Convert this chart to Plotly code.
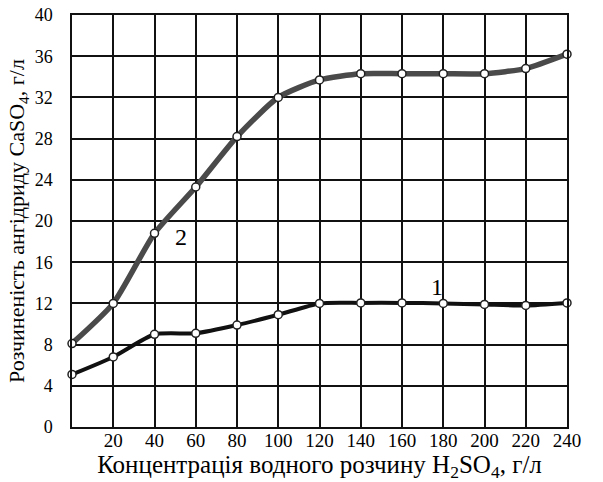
import plotly.graph_objects as go

conc = [0, 20, 40, 60, 80, 100, 120, 140, 160, 180, 200, 220, 240]
curve1 = [5.1, 6.8, 9.0, 9.1, 9.9, 10.9, 12.0, 12.05, 12.05, 12.0, 11.9, 11.8, 12.05]
curve2 = [8.1, 12.0, 18.8, 23.3, 28.2, 32.0, 33.7, 34.3, 34.3, 34.3, 34.3, 34.8, 36.2]
x_ticks = [20, 40, 60, 80, 100, 120, 140, 160, 180, 200, 220, 240]
y_ticks = [0, 4, 8, 12, 16, 20, 24, 28, 32, 36, 40]
curve_labels = ["1", "2"]
label_pos = [(177, 13.6), (53, 18.4)]

FONT = "Liberation Serif, Times New Roman, serif"

fig = go.Figure()
fig.add_trace(go.Scatter(
    x=conc, y=curve2, mode="lines+markers",
    line=dict(color="#4a4a4a", width=5.5, shape="spline", smoothing=0.6),
    marker=dict(symbol="circle", size=8, color="white", line=dict(color="#222222", width=1.5)),
    cliponaxis=False, showlegend=False))
fig.add_trace(go.Scatter(
    x=conc, y=curve1, mode="lines+markers",
    line=dict(color="#111111", width=4, shape="spline", smoothing=0.6),
    marker=dict(symbol="circle", size=8, color="white", line=dict(color="#222222", width=1.5)),
    cliponaxis=False, showlegend=False))

for txt, (lx, ly) in zip(curve_labels, label_pos):
    fig.add_annotation(x=lx, y=ly, text=txt, showarrow=False,
                       font=dict(family=FONT, size=24, color="black"))

fig.update_layout(
    width=603, height=482,
    margin=dict(l=72, r=36, t=15, b=55),
    paper_bgcolor="white", plot_bgcolor="white",
    font=dict(family=FONT, color="black"),
    xaxis=dict(range=[0, 240], tickvals=x_ticks, ticktext=[str(v) for v in x_ticks],
               showgrid=True, gridcolor="#111111", gridwidth=1.5,
               showline=True, linecolor="#111111", linewidth=1.5, mirror=True,
               zeroline=False, ticks="", tickfont=dict(size=19, family=FONT),
               ticklabelstandoff=-5, automargin=False,
               title=dict(text="Концентрація водного розчину H<sub>2</sub>SO<sub>4</sub>, г/л",
                          font=dict(size=25, family=FONT), standoff=1)),
    yaxis=dict(range=[0, 40], tickvals=y_ticks, ticktext=[str(v) for v in y_ticks],
               showgrid=True, gridcolor="#111111", gridwidth=1.5,
               showline=True, linecolor="#111111", linewidth=1.5, mirror=True,
               zeroline=False, ticks="", tickfont=dict(size=18, family=FONT),
               ticklabelstandoff=14, automargin=False,
               title=dict(text="Розчиненість ангідриду CaSO<sub>4</sub>, г/л",
                          font=dict(size=22, family=FONT), standoff=4)),
)

fig.write_html("out.html", config={"displayModeBar": False},
               post_script="document.body.style.margin='0';document.body.style.padding='0';")
